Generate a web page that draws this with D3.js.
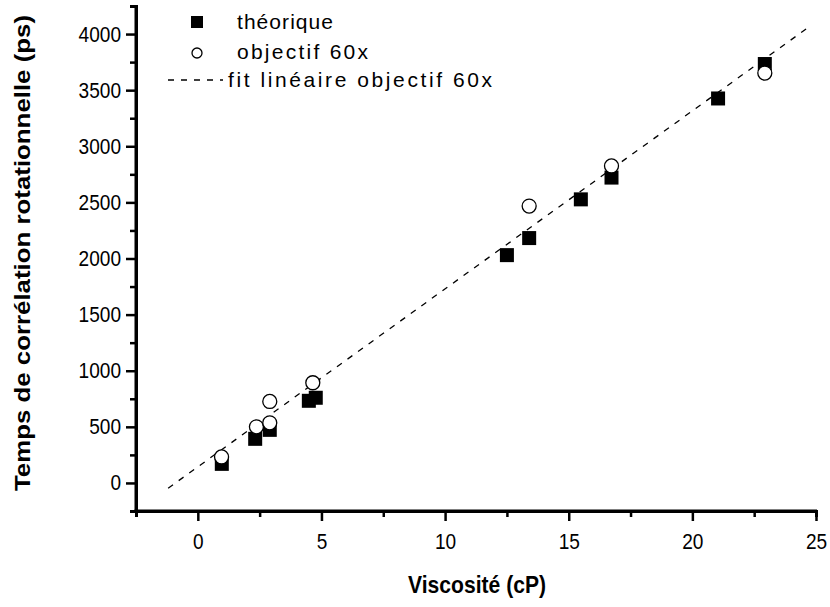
<!DOCTYPE html>
<html>
<head>
<meta charset="utf-8">
<script src="https://cdn.jsdelivr.net/npm/d3@7"></script>
<style>
  html, body { margin: 0; padding: 0; background: #fff; }
  svg { display: block; }
  text { font-family: "Liberation Sans", Arial, sans-serif; fill: #000; }
</style>
</head>
<body>
<svg id="chart" width="830" height="607"></svg>
<script>
// ---- data ----
const theoX = [0.97, 2.32, 2.91, 4.49, 4.77, 12.5, 13.4, 15.49, 16.73, 21.04, 22.93];
const theoY = [170, 393, 473, 732, 759, 2030, 2182, 2527, 2721, 3426, 3733];
const objX = [0.96, 2.37, 2.91, 2.91, 4.65, 13.4, 16.73, 22.93];
const objY = [232, 500, 536, 726, 893, 2467, 2825, 3652];
const fitX = [-1.2, 24.75];
const fitY = [-47, 4069];
const xMajorTicks = [0, 5, 10, 15, 20, 25];
const xMinorTicks = [-2.5, 2.5, 7.5, 12.5, 17.5, 22.5];
const yMajorTicks = [0, 500, 1000, 1500, 2000, 2500, 3000, 3500, 4000];
const yMinorTicks = [-250, 250, 750, 1250, 1750, 2250, 2750, 3250, 3750, 4250];
const legendLabels = ["théorique", "objectif 60x", "fit linéaire objectif 60x"];
const xTitle = "Viscosité (cP)";
const yTitle = "Temps de corrélation rotationnelle (ps)";

// ---- layout ----
const svg = d3.select("#chart");
const x = d3.scaleLinear().domain([-2.5, 25]).range([136, 816]);
const y = d3.scaleLinear().domain([-250, 4250]).range([511, 6]);

const axisColor = "#000";
const g = svg.append("g");

// x axis
const xAxisMajor = d3.axisBottom(x).tickValues(xMajorTicks).tickSize(10).tickPadding(12).tickFormat(d3.format("d"));
const xAxisMinor = d3.axisBottom(x).tickValues(xMinorTicks).tickSize(6).tickFormat("");
const gxMin = g.append("g").attr("transform", `translate(0,${y(-250)})`).call(xAxisMinor);
const gx = g.append("g").attr("transform", `translate(0,${y(-250)})`).call(xAxisMajor);

// y axis
const yAxisMajor = d3.axisLeft(y).tickValues(yMajorTicks).tickSize(10).tickPadding(5).tickFormat(d3.format("d"));
const yAxisMinor = d3.axisLeft(y).tickValues(yMinorTicks).tickSize(6).tickFormat("");
const gyMin = g.append("g").attr("transform", `translate(${x(-2.5)},0)`).call(yAxisMinor);
const gy = g.append("g").attr("transform", `translate(${x(-2.5)},0)`).call(yAxisMajor);

[gx, gxMin, gy, gyMin].forEach(a => {
  a.select(".domain").attr("stroke", axisColor).attr("stroke-width", 3);
  a.selectAll(".tick line").attr("stroke", axisColor).attr("stroke-width", 2.5);
  a.selectAll(".tick text")
    .attr("font-size", 22)
    .attr("font-family", "Liberation Sans, Arial, sans-serif")
    .attr("fill", "#000")
    .attr("textLength", d => String(d).length * 10.6)
    .attr("lengthAdjust", "spacingAndGlyphs");
});
gx.select(".domain").attr("d", `M${x(-2.5)-1.5},0H${x(25)+1}`);
gy.select(".domain").attr("d", `M0,${y(4250)}V${y(-250)+1.5}`);

// axis titles
svg.append("text")
  .attr("x", 477).attr("y", 593)
  .attr("text-anchor", "middle")
  .attr("font-size", 24).attr("font-weight", "bold")
  .attr("textLength", 138).attr("lengthAdjust", "spacingAndGlyphs")
  .text(xTitle);
svg.append("text")
  .attr("transform", "translate(30,253) rotate(-90)")
  .attr("text-anchor", "middle")
  .attr("font-size", 22).attr("font-weight", "bold")
  .attr("textLength", 476).attr("lengthAdjust", "spacingAndGlyphs")
  .text(yTitle);

// fit line
const line = d3.line().x(d => x(d[0])).y(d => y(d[1]));
svg.append("path")
  .datum(fitX.map((v, i) => [v, fitY[i]]))
  .attr("d", line)
  .attr("fill", "none")
  .attr("stroke", "#000")
  .attr("stroke-width", 1.3)
  .attr("stroke-dasharray", "6,7");

// squares (théorique)
const sq = 14;
svg.append("g").selectAll("rect")
  .data(theoX.map((v, i) => [v, theoY[i]]))
  .join("rect")
  .attr("x", d => x(d[0]) - sq / 2)
  .attr("y", d => y(d[1]) - sq / 2)
  .attr("width", sq).attr("height", sq)
  .attr("fill", "#000");

// circles (objectif 60x)
svg.append("g").selectAll("circle")
  .data(objX.map((v, i) => [v, objY[i]]))
  .join("circle")
  .attr("cx", d => x(d[0]))
  .attr("cy", d => y(d[1]))
  .attr("r", 7)
  .attr("fill", "#fff")
  .attr("stroke", "#000")
  .attr("stroke-width", 1.3);

// legend
const leg = svg.append("g");
leg.append("rect").attr("x", 191).attr("y", 16).attr("width", 12).attr("height", 12).attr("fill", "#000");
leg.append("circle").attr("cx", 197).attr("cy", 53).attr("r", 5).attr("fill", "#fff").attr("stroke", "#000").attr("stroke-width", 1.3);
leg.append("line").attr("x1", 168).attr("x2", 223).attr("y1", 80).attr("y2", 80)
  .attr("stroke", "#000").attr("stroke-width", 1.3).attr("stroke-dasharray", "6,7");
const legY = [29, 59, 87];
const legX = [237, 237, 228];
const legW = [96, 131, 264];
legendLabels.forEach((t, i) => {
  leg.append("text").attr("x", legX[i]).attr("y", legY[i])
    .attr("font-size", 21)
    .attr("textLength", legW[i]).attr("lengthAdjust", "spacing")
    .text(t);
});
</script>
</body>
</html>
